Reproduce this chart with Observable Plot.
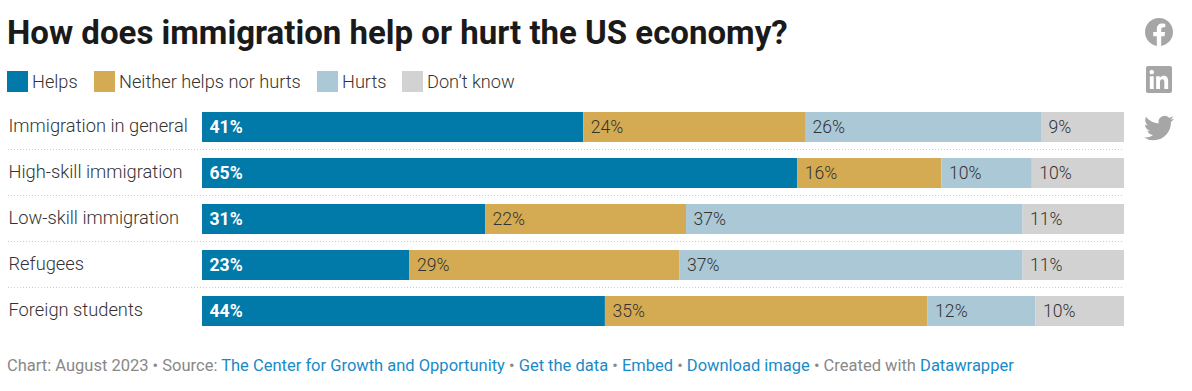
<!DOCTYPE html>
<html>
<head>
<meta charset="utf-8">
<script src="https://cdn.jsdelivr.net/npm/d3@7"></script>
<script src="https://cdn.jsdelivr.net/npm/@observablehq/plot@0.6"></script>
<style>
html,body{margin:0;padding:0;background:#fff;}
body{width:1192px;height:391px;position:relative;overflow:hidden;font-family:Roboto,sans-serif;}
#title{position:absolute;left:7px;top:14px;font-size:33px;font-weight:700;color:#1a1a1a;line-height:38px;white-space:nowrap;}
#legend{position:absolute;left:7px;top:71px;height:21px;width:700px;}
.li{position:absolute;top:0;height:21px;font-size:18.2px;font-weight:300;color:#333;line-height:21px;white-space:nowrap;}
.sw{display:inline-block;width:21px;height:21px;vertical-align:top;margin-right:4px;}
#chart{position:absolute;left:0;top:98px;}
#footer{position:absolute;left:7px;top:356px;font-size:16.5px;line-height:20px;font-weight:400;color:#888;white-space:nowrap;}
#footer a{color:#1a8ac7;text-decoration:none;font-weight:400;}
.icon{position:absolute;fill:#a6a6a6;}
</style>
</head>
<body>
<div id="title">How does immigration help or hurt the US economy?</div>
<div id="legend"></div>
<div id="chart"></div>
<div id="footer">Chart: August 2023 • Source: <a>The Center for Growth and Opportunity</a> • <a>Get the data</a> • <a>Embed</a> • <a>Download image</a> • Created with <a>Datawrapper</a></div>
<svg class="icon" style="left:1145px;top:18px" width="28" height="28" viewBox="0 0 24 24"><path d="M24 12.073c0-6.627-5.373-12-12-12s-12 5.373-12 12c0 5.99 4.388 10.954 10.125 11.854v-8.385H7.078v-3.47h3.047V9.43c0-3.007 1.792-4.669 4.533-4.669 1.312 0 2.686.235 2.686.235v2.953H15.83c-1.491 0-1.956.925-1.956 1.874v2.25h3.328l-.532 3.47h-2.796v8.385C19.612 23.027 24 18.062 24 12.073z"/></svg>
<svg class="icon" style="left:1146px;top:66px" width="26" height="27" viewBox="0 0 24 24" preserveAspectRatio="none"><path d="M20.447 20.452h-3.554v-5.569c0-1.328-.027-3.037-1.852-3.037-1.853 0-2.136 1.445-2.136 2.939v5.667H9.351V9h3.414v1.561h.046c.477-.9 1.637-1.85 3.37-1.85 3.601 0 4.267 2.37 4.267 5.455v6.286zM5.337 7.433c-1.144 0-2.063-.926-2.063-2.065 0-1.138.92-2.063 2.063-2.063 1.14 0 2.064.925 2.064 2.063 0 1.139-.925 2.065-2.064 2.065zm1.782 13.019H3.555V9h3.564v11.452zM22.225 0H1.771C.792 0 0 .774 0 1.729v20.542C0 23.227.792 24 1.771 24h20.451C23.2 24 24 23.227 24 22.271V1.729C24 .774 23.2 0 22.222 0h.003z"/></svg>
<svg class="icon" style="left:1144px;top:113px" width="30" height="30" viewBox="0 0 24 24"><path d="M23.953 4.57a10 10 0 01-2.825.775 4.958 4.958 0 002.163-2.723c-.951.555-2.005.959-3.127 1.184a4.92 4.92 0 00-8.384 4.482C7.69 8.095 4.067 6.13 1.64 3.162a4.822 4.822 0 00-.666 2.475c0 1.71.87 3.213 2.188 4.096a4.904 4.904 0 01-2.228-.616v.06a4.923 4.923 0 003.946 4.827 4.996 4.996 0 01-2.212.085 4.936 4.936 0 004.604 3.417 9.867 9.867 0 01-6.102 2.105c-.39 0-.779-.023-1.17-.067a13.995 13.995 0 007.557 2.209c9.053 0 13.998-7.496 13.998-13.985 0-.21 0-.42-.015-.63A9.935 9.935 0 0024 4.59z"/></svg>
<script>
const categories = ["Immigration in general","High-skill immigration","Low-skill immigration","Refugees","Foreign students"];
const seriesNames = ["Helps","Neither helps nor hurts","Hurts","Don’t know"];
const seriesColors = ["#0179a9","#d4ab52","#abc8d6","#d2d2d2"];
const helps = [41.35,64.55,30.7,22.5,43.7];
const neither = [24.05,15.65,21.8,29.3,35.0];
const hurts = [25.6,9.8,36.5,37.2,11.7];
const dontKnow = [9.0,10.0,11.0,11.0,9.6];
const labels = [
  ["41%","24%","26%","9%"],
  ["65%","16%","10%","10%"],
  ["31%","22%","37%","11%"],
  ["23%","29%","37%","11%"],
  ["44%","35%","12%","10%"]
];
const legendX = [0,87,310,395];

const lg = document.getElementById("legend");
seriesNames.forEach((n,i)=>{
  const d=document.createElement("div");d.className="li";d.style.left=legendX[i]+"px";
  d.innerHTML=`<span class="sw" style="background:${seriesColors[i]}"></span>${n}`;
  lg.appendChild(d);
});

const cols=[helps,neither,hurts,dontKnow];
const rows=[];
categories.forEach((c,r)=>{
  let acc=0;
  cols.forEach((col,s)=>{
    rows.push({cat:c,series:seriesNames[s],x1:acc,x2:acc+col[r],label:labels[r][s],s});
    acc+=col[r];
  });
});

const plot=Plot.plot({
  width:1192,height:250,
  marginLeft:8,marginRight:68,marginTop:6,marginBottom:0,
  x:{domain:[0,100],range:[202,1124],axis:null},
  y:{domain:categories,axis:null,range:[6,236],paddingInner:16/46,paddingOuter:8/46,round:false},
  color:{domain:seriesNames,range:seriesColors},
  style:{fontFamily:"Roboto,sans-serif",background:"transparent"},
  marks:[
    Plot.ruleY(categories.slice(0,-1),{y:d=>d,dy:22,stroke:"#cccccc",strokeDasharray:"1,2",strokeWidth:1}),
    Plot.rectX(rows,{x1:"x1",x2:"x2",y:"cat",fill:"series"}),
    Plot.text(categories,{y:d=>d,text:d=>d,frameAnchor:"left",textAnchor:"start",dx:0,dy:-1,fontSize:18.3,fontWeight:300,fill:"#333"}),
    Plot.text(rows.filter(d=>d.s===0),{x:"x1",y:"cat",text:"label",textAnchor:"start",dx:7,fontSize:17.6,fontWeight:700,fill:"#fff"}),
    Plot.text(rows.filter(d=>d.s>0),{x:"x1",y:"cat",text:"label",textAnchor:"start",dx:7,fontSize:17.6,fontWeight:300,fill:"#333"})
  ]
});
document.getElementById("chart").appendChild(plot);
</script>
</body>
</html>
